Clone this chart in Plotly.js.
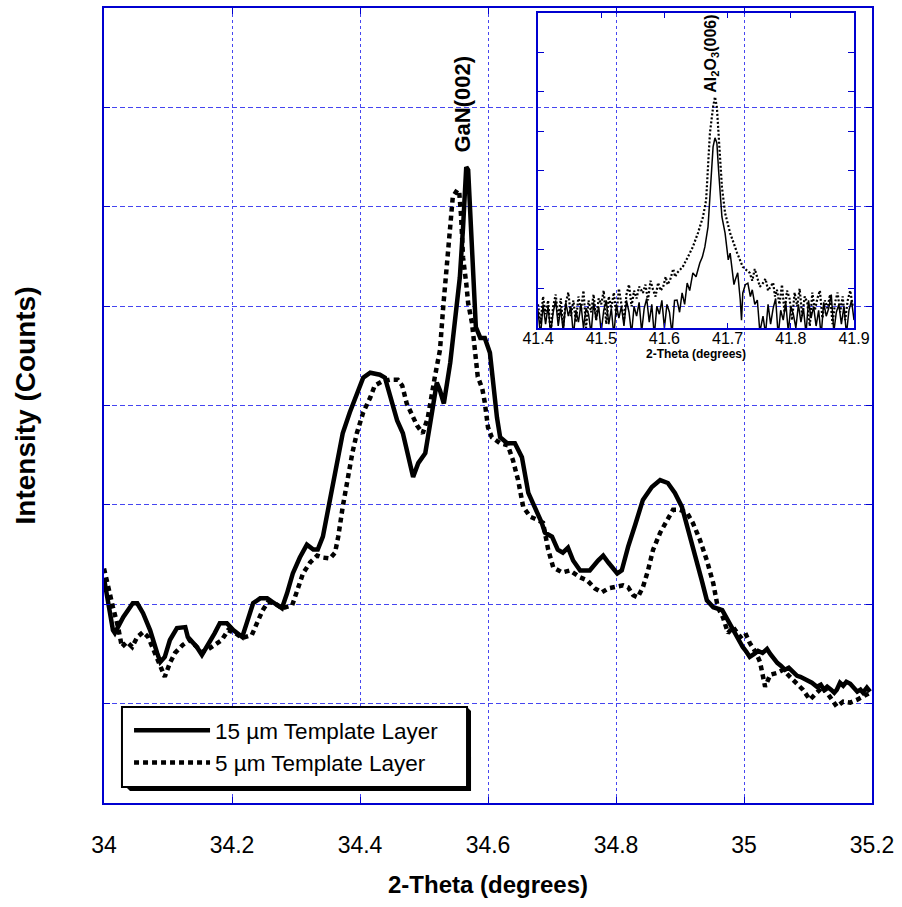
<!DOCTYPE html>
<html>
<head>
<meta charset="utf-8">
<script src="https://cdn.plot.ly/plotly-3.0.1.min.js"></script>
<style>html,body{margin:0;padding:0;background:#fff;}#chart{width:902px;height:907px;}</style>
</head>
<body>
<div id="chart"></div>
<script>
// ---- Main scan: 15 µm template layer (solid) ----
const theta15 = [34.000,34.014,34.017,34.030,34.045,34.052,34.061,34.072,34.083,34.088,34.095,34.103,34.114,34.127,34.131,34.145,34.153,34.161,34.173,34.181,34.192,34.202,34.216,34.223,34.233,34.244,34.255,34.264,34.278,34.286,34.295,34.306,34.317,34.327,34.334,34.342,34.353,34.364,34.373,34.384,34.395,34.405,34.416,34.431,34.439,34.447,34.458,34.467,34.478,34.483,34.491,34.502,34.513,34.520,34.525,34.531,34.541,34.548,34.556,34.561,34.566,34.569,34.573,34.577,34.581,34.588,34.595,34.603,34.608,34.614,34.619,34.630,34.642,34.653,34.663,34.673,34.684,34.689,34.700,34.709,34.717,34.725,34.733,34.744,34.759,34.772,34.780,34.788,34.802,34.809,34.819,34.830,34.842,34.856,34.869,34.881,34.892,34.903,34.913,34.923,34.934,34.942,34.952,34.966,34.975,34.983,34.991,34.998,35.004,35.009,35.016,35.022,35.029,35.036,35.041,35.044,35.048,35.052,35.058,35.064,35.070,35.077,35.083,35.088,35.094,35.100,35.106,35.114,35.120,35.125,35.130,35.136,35.141,35.145,35.150,35.155,35.160,35.166,35.171,35.177,35.182,35.186,35.192,35.197];
const counts15 = [226,174,171,187,201,201,191,174,151,142,147,164,176,177,167,157,149,157,171,181,181,174,167,181,201,206,206,202,196,211,231,247,260,255,255,268,305,345,372,393,412,428,433,431,428,410,385,372,342,328,342,352,395,423,415,402,443,483,529,579,640,637,590,523,479,468,468,453,423,388,368,362,362,348,312,298,282,272,268,255,252,257,244,234,234,244,249,242,231,234,258,280,305,318,325,322,312,298,275,252,224,204,197,194,184,174,164,157,152,147,150,153,151,155,150,147,144,141,138,134,136,131,128,127,125,124,121,117,119,114,117,114,111,114,121,118,122,120,117,112,114,111,116,112];

// ---- Main scan: 5 µm template layer (dotted) ----
const theta5 = [34.000,34.006,34.014,34.022,34.028,34.036,34.044,34.052,34.061,34.069,34.077,34.088,34.095,34.103,34.111,34.123,34.134,34.145,34.153,34.161,34.173,34.184,34.194,34.205,34.216,34.231,34.239,34.248,34.256,34.267,34.278,34.294,34.302,34.311,34.322,34.333,34.342,34.353,34.361,34.366,34.373,34.380,34.388,34.395,34.405,34.416,34.423,34.434,34.447,34.459,34.466,34.473,34.481,34.489,34.498,34.506,34.517,34.525,34.530,34.536,34.541,34.545,34.552,34.555,34.558,34.561,34.566,34.569,34.575,34.580,34.584,34.591,34.595,34.600,34.606,34.619,34.631,34.639,34.647,34.655,34.666,34.677,34.686,34.694,34.702,34.716,34.728,34.744,34.755,34.767,34.778,34.788,34.795,34.811,34.819,34.827,34.834,34.842,34.850,34.858,34.869,34.880,34.889,34.900,34.911,34.920,34.931,34.942,34.952,34.959,34.967,34.975,34.983,34.994,35.002,35.009,35.019,35.025,35.033,35.041,35.052,35.061,35.072,35.083,35.092,35.103,35.114,35.123,35.134,35.145,35.155,35.166,35.177,35.186,35.197];
const counts5 = [236,217,197,177,157,162,157,167,172,167,154,139,127,141,151,159,164,157,152,154,159,164,174,171,166,169,181,194,202,201,196,199,214,231,242,249,247,246,252,268,298,325,352,372,393,408,420,424,426,426,420,402,392,380,372,388,429,456,499,546,576,610,617,615,590,549,523,503,483,456,429,417,403,378,368,362,360,345,325,298,288,285,282,255,237,232,234,227,224,216,212,216,217,219,217,209,207,217,234,255,272,285,295,295,292,282,265,244,221,197,187,171,177,167,171,161,151,142,117,129,131,134,127,121,114,104,111,117,107,97,102,101,104,107,111];

// ---- Inset: Al2O3(006), 15 µm (solid) ----
const insetTheta15 = [41.400,41.404,41.408,41.412,41.416,41.420,41.424,41.428,41.432,41.436,41.440,41.444,41.448,41.452,41.456,41.460,41.464,41.468,41.472,41.476,41.480,41.484,41.488,41.492,41.496,41.500,41.504,41.508,41.512,41.516,41.520,41.524,41.528,41.532,41.536,41.540,41.544,41.548,41.552,41.556,41.560,41.564,41.568,41.572,41.576,41.580,41.584,41.588,41.592,41.596,41.600,41.604,41.608,41.612,41.616,41.620,41.624,41.628,41.632,41.636,41.640,41.645,41.650,41.656,41.660,41.664,41.669,41.672,41.675,41.677,41.680,41.683,41.686,41.691,41.696,41.701,41.704,41.707,41.710,41.712,41.716,41.720,41.722,41.724,41.728,41.732,41.736,41.739,41.743,41.747,41.751,41.756,41.760,41.764,41.768,41.772,41.776,41.780,41.784,41.788,41.792,41.796,41.800,41.804,41.808,41.812,41.816,41.820,41.824,41.828,41.832,41.836,41.840,41.844,41.848,41.852,41.856,41.860,41.864,41.868,41.872,41.876,41.880,41.884,41.888,41.892,41.896,41.900];
const insetCounts15 = [45,-20,60,10,55,-15,40,70,5,50,-10,65,30,55,-20,45,15,60,0,50,35,-15,65,20,55,-10,45,70,10,50,-20,60,25,55,5,70,40,-15,55,30,65,-10,50,75,15,60,-20,55,35,70,0,60,40,-15,70,71,40,89,60,114,95,140,130,165,180,206,257,325,409,460,483,470,394,282,241,173,190,155,110,122,140,71,20,89,110,114,80,97,60,71,-10,30,-15,60,10,50,75,-20,45,20,65,-10,55,35,0,60,15,50,-15,70,25,55,5,45,-20,65,30,50,85,-10,40,60,10,55,-15,45,70,20];

// ---- Inset: Al2O3(006), 5 µm (dotted) ----
const insetTheta5 = [41.400,41.404,41.408,41.412,41.416,41.420,41.424,41.428,41.432,41.436,41.440,41.444,41.448,41.452,41.456,41.460,41.464,41.468,41.472,41.476,41.480,41.484,41.488,41.492,41.496,41.500,41.504,41.508,41.512,41.516,41.520,41.524,41.528,41.532,41.536,41.540,41.544,41.548,41.552,41.556,41.560,41.566,41.570,41.574,41.578,41.582,41.586,41.590,41.594,41.598,41.602,41.605,41.609,41.614,41.617,41.620,41.629,41.637,41.645,41.653,41.661,41.666,41.669,41.672,41.677,41.680,41.683,41.686,41.691,41.696,41.704,41.715,41.724,41.735,41.739,41.743,41.747,41.751,41.756,41.760,41.764,41.767,41.772,41.775,41.778,41.782,41.786,41.790,41.794,41.798,41.802,41.806,41.810,41.814,41.818,41.822,41.826,41.830,41.834,41.838,41.842,41.846,41.850,41.854,41.858,41.862,41.866,41.870,41.874,41.878,41.882,41.886,41.890,41.894,41.898];
const insetCounts5 = [60,10,80,35,70,-10,55,85,25,75,5,65,90,30,70,15,80,45,95,0,70,40,85,20,75,60,95,10,80,50,90,30,100,65,20,85,110,55,95,75,105,89,110,70,120,97,80,115,95,104,130,110,122,150,130,140,155,180,206,241,282,325,409,495,561,587,561,478,358,292,241,191,155,140,120,150,130,105,114,125,95,104,115,80,97,60,110,40,95,75,20,90,55,100,30,80,65,5,90,45,75,95,25,70,50,85,10,65,90,40,80,20,70,95,55];

const FONT = 'Liberation Sans, Arial, Helvetica, sans-serif';
const AXIS_BLUE = '#0000d0';
const GRID_BLUE = '#4646f0';

const traces = [
  {x: theta15, y: counts15, type: 'scatter', mode: 'lines', name: '15 µm Template Layer',
   line: {color: '#000', width: 4.5}, xaxis: 'x', yaxis: 'y'},
  {x: theta5, y: counts5, type: 'scatter', mode: 'lines', name: '5 µm Template Layer',
   line: {color: '#000', width: 4.5, dash: '5px,4px'}, xaxis: 'x', yaxis: 'y'},
  {x: insetTheta15, y: insetCounts15, type: 'scatter', mode: 'lines', showlegend: false,
   line: {color: '#000', width: 1.5}, xaxis: 'x2', yaxis: 'y2'},
  {x: insetTheta5, y: insetCounts5, type: 'scatter', mode: 'lines', showlegend: false,
   line: {color: '#000', width: 2.2, dash: '2px,2px'}, xaxis: 'x2', yaxis: 'y2'}
];

const layout = {
  width: 902, height: 907,
  margin: {l: 104, r: 30, t: 8, b: 104},
  paper_bgcolor: '#fff', plot_bgcolor: 'rgba(0,0,0,0)',
  font: {family: FONT, color: '#000'},
  showlegend: true,
  legend: {x: 0.0326, y: 0.118, xanchor: 'left', yanchor: 'top', bgcolor: 'rgba(0,0,0,0)',
           borderwidth: 0, font: {size: 22.5, family: FONT}, itemwidth: 76, tracegroupgap: 0},
  xaxis: {range: [34, 35.2], tick0: 34, dtick: 0.2, ticks: 'inside', ticklen: 6, tickwidth: 1,
          tickcolor: AXIS_BLUE, showline: true, linecolor: AXIS_BLUE, linewidth: 2, mirror: 'ticks',
          showgrid: true, gridcolor: GRID_BLUE, gridwidth: 1, griddash: '3px,3px', zeroline: false,
          tickfont: {size: 23}, ticklabelstandoff: 20,
          title: {text: '2-Theta (degrees)', font: {size: 24, weight: 'bold'}, standoff: 20}},
  yaxis: {range: [0, 800], dtick: 100, showticklabels: false, ticks: 'inside', ticklen: 6,
          tickcolor: AXIS_BLUE, showline: true, linecolor: AXIS_BLUE, linewidth: 2, mirror: 'ticks',
          showgrid: true, gridcolor: GRID_BLUE, gridwidth: 1, griddash: '5px,3px', zeroline: false,
          title: {text: 'Intensity (Counts)', font: {size: 28, weight: 'bold'}, standoff: 58}},
  xaxis2: {domain: [0.5651, 0.9766], anchor: 'y2', range: [41.4, 41.9], tick0: 41.4, dtick: 0.1,
           ticks: 'inside', ticklen: 5, tickcolor: AXIS_BLUE, showline: true, linecolor: AXIS_BLUE,
           linewidth: 2, mirror: 'ticks', showgrid: false, zeroline: false, tickfont: {size: 16},
           ticklabelstandoff: -5,
           title: {text: '2-Theta (degrees)', font: {size: 12, weight: 'bold'}, standoff: 0}},
  yaxis2: {domain: [0.5975, 0.9937], anchor: 'x2', range: [0, 800], dtick: 100, showticklabels: false,
           ticks: 'inside', ticklen: 6, tickcolor: AXIS_BLUE, showline: true, linecolor: AXIS_BLUE,
           linewidth: 2, mirror: 'ticks', showgrid: false, zeroline: false},
  shapes: [
    {type: 'path', xref: 'paper', yref: 'paper', layer: 'above',
     path: 'M0.0286,0.0201 L0.0339,0.0151 L0.4779,0.0151 L0.4779,0.1157 L0.4727,0.1208 Z',
     fillcolor: '#000', line: {width: 0}},
    {type: 'rect', xref: 'paper', yref: 'paper', layer: 'above',
     x0: 0.0234, x1: 0.4727, y0: 0.0201, y1: 0.1208,
     fillcolor: '#fff', line: {color: '#000', width: 2}}
  ],
  annotations: [
    {text: 'GaN(002)', x: 34.561, y: 652, xref: 'x', yref: 'y', textangle: -90,
     xanchor: 'center', yanchor: 'bottom', showarrow: false,
     font: {size: 22, weight: 'bold', family: FONT}},
    {text: 'Al<sub>2</sub>O<sub>3</sub>(006)', x: 41.675, y: 592, xref: 'x2', yref: 'y2', textangle: -90,
     xanchor: 'center', yanchor: 'bottom', showarrow: false,
     font: {size: 16, weight: 'bold', family: FONT}}
  ]
};

Plotly.newPlot('chart', traces, layout, {displayModeBar: false, staticPlot: true});
</script>
</body>
</html>
